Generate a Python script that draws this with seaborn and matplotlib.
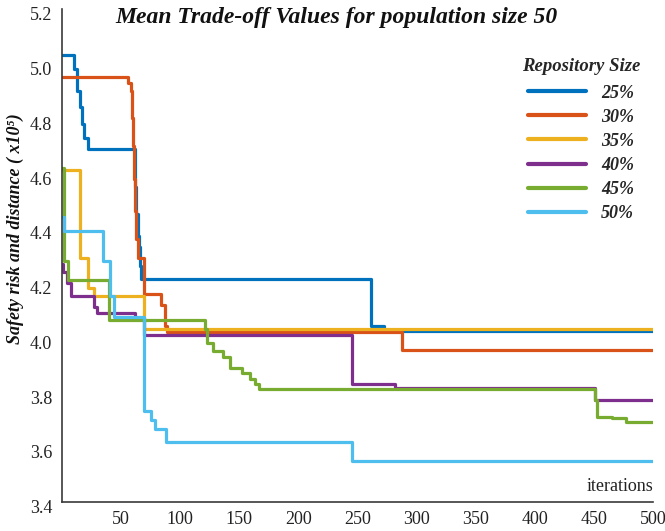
import matplotlib
matplotlib.use("Agg")
import matplotlib.pyplot as plt
import matplotlib.transforms as mtransforms
import numpy as np
import pandas as pd
import seaborn as sns

# ---------------- data ----------------
sizes = ["25%", "30%", "35%", "40%", "45%", "50%"]

x_25 = [0, 10, 13, 15, 17, 19, 22, 62, 63, 64, 65, 66, 67, 261, 272, 500]
y_25 = [5.03, 4.98, 4.90, 4.84, 4.78, 4.73, 4.69, 4.55, 4.45, 4.37, 4.33, 4.26, 4.215, 4.04, 4.025, 4.025]

x_30 = [0, 56, 58, 59, 60, 61, 62, 63, 64, 69, 84, 87, 89, 288, 500]
y_30 = [4.95, 4.93, 4.90, 4.80, 4.70, 4.58, 4.46, 4.36, 4.29, 4.16, 4.12, 4.04, 4.02, 3.955, 3.955]

x_35 = [0, 15, 22, 27, 69, 500]
y_35 = [4.61, 4.29, 4.18, 4.15, 4.03, 4.03]

x_40 = [0, 1, 4, 8, 27, 30, 62, 69, 245, 282, 451, 500]
y_40 = [4.27, 4.24, 4.20, 4.15, 4.11, 4.09, 4.07, 4.01, 3.83, 3.815, 3.77, 3.77]

x_45 = [0, 2, 5, 40, 121, 123, 128, 136, 142, 152, 159, 163, 167, 451, 453, 465, 477, 500]
y_45 = [4.62, 4.28, 4.21, 4.065, 4.03, 3.98, 3.95, 3.93, 3.89, 3.87, 3.85, 3.83, 3.81, 3.77, 3.71, 3.705, 3.69, 3.69]

x_50 = [0, 2, 35, 41, 44, 69, 75, 79, 88, 245, 500]
y_50 = [4.44, 4.39, 4.28, 4.15, 4.075, 3.73, 3.70, 3.665, 3.617, 3.55, 3.55]

colors = ["#0072BD", "#D95319", "#EDB120", "#7E2F8E", "#77AC30", "#4DBEEE"]

x_ticks = [50, 100, 150, 200, 250, 300, 350, 400, 450, 500]
y_ticks = [3.4, 3.6, 3.8, 4.0, 4.2, 4.4, 4.6, 4.8, 5.0, 5.2]

title = "Mean Trade-off Values for population size 50"
ylabel = "Safety risk and distance ( x10\u2075)"
xlabel = "iterations"
legend_title = "Repository Size"

# ---------------- build long table ----------------
xs = [x_25, x_30, x_35, x_40, x_45, x_50]
ys = [y_25, y_30, y_35, y_40, y_45, y_50]
frames = [pd.DataFrame({"iteration": x, "value": y, "size": s}) for x, y, s in zip(xs, ys, sizes)]
df = pd.concat(frames, ignore_index=True)

# ---------------- style ----------------
sns.set_style("white")
serif = ["Liberation Serif", "DejaVu Serif"]
plt.rcParams["font.family"] = serif

W, H = 665, 531
fig = plt.figure(figsize=(W / 100, H / 100), dpi=100)
ax = fig.add_axes([62 / W, (H - 501.7) / H, (653 - 62) / W, (501.7 - 8.9) / H])

sns.lineplot(data=df, x="iteration", y="value", hue="size", hue_order=sizes,
             palette=colors, estimator=None, drawstyle="steps-post",
             linewidth=2.3, ax=ax)

ax.set_xlim(0, 500)
ax.set_ylim(3.4, 5.2)
ax.set_xticks(x_ticks)
ax.set_yticks(y_ticks)
ax.set_xticklabels([str(t) for t in x_ticks])
ax.set_yticklabels([f"{t:.1f}" for t in y_ticks])

for side in ["top", "right"]:
    ax.spines[side].set_visible(False)
for side in ["left", "bottom"]:
    ax.spines[side].set_color("#3a3a3a")
    ax.spines[side].set_linewidth(1.2)

ax.tick_params(axis="both", direction="in", length=4.5, width=1.0, color="#3a3a3a",
               labelsize=13, labelcolor="#222222")
ax.tick_params(axis="x", pad=6.5)
ax.tick_params(axis="y", pad=7)

# y tick labels sit slightly below their ticks in the reference
offset = mtransforms.ScaledTranslation(0, -5 / 100, fig.dpi_scale_trans)
for lab in ax.get_yticklabels():
    lab.set_transform(lab.get_transform() + offset)

ax.set_xlabel("")
ax.set_ylabel(ylabel, fontsize=13, fontweight="bold", fontstyle="italic", color="#111111")
ax.yaxis.set_label_coords(-0.064, 0.555)

ax.text(1.0, 0.03, xlabel, transform=ax.transAxes, ha="right", va="center",
        fontsize=13, color="#222222")

fig.text(0.506, 1 - 18 / H, title, ha="center", va="center", fontsize=17,
         fontweight="bold", fontstyle="italic", color="#111111")

handles, labels = ax.get_legend_handles_labels()
leg = ax.legend(handles, labels, title=legend_title, loc="upper right",
                bbox_to_anchor=(640 / W, 1 - 58 / H), bbox_transform=fig.transFigure,
                frameon=False, handlelength=3.25, handletextpad=0.8, labelspacing=0.39,
                borderpad=0, borderaxespad=0,
                prop=dict(family=serif, weight="bold", style="italic", size=13),
                title_fontproperties=dict(family=serif, weight="bold", style="italic", size=13.5))
leg._legend_box.sep = 7
for line in leg.get_lines():
    line.set_linewidth(3)

fig.savefig("out.png", dpi=100)
